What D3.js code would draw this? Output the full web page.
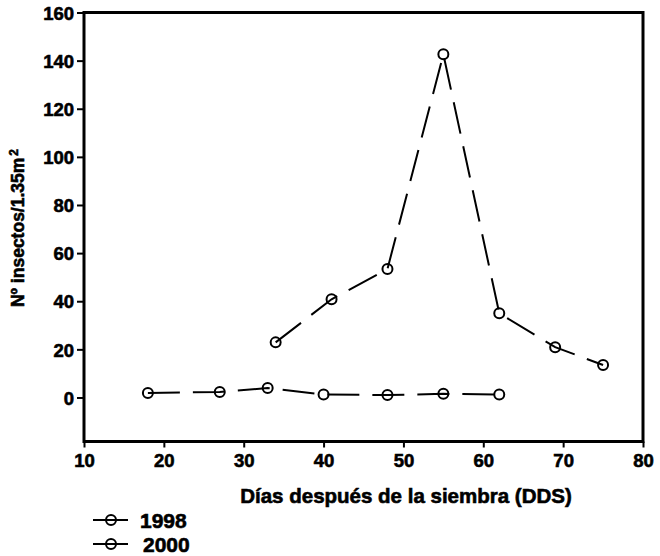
<!DOCTYPE html>
<html><head><meta charset="utf-8">
<script src="https://cdn.jsdelivr.net/npm/d3@7"></script>
<style>body{margin:0;background:#fff}svg{display:block}text{font-family:"Liberation Sans",Arial,sans-serif;font-weight:bold;fill:#000;stroke:#000;stroke-width:0.6px}</style>
</head><body><svg id="c" width="660" height="556"></svg>
<script>
const days1998 = [34, 41, 48, 55, 62, 69, 75];
const vals1998 = [22.9, 40.8, 53.4, 142.6, 35.0, 20.9, 13.5];
const days2000 = [18, 27, 33, 40, 48, 55, 62];
const vals2000 = [1.9, 2.3, 3.9, 1.2, 1.0, 1.5, 1.2];
const xTicks = [10, 20, 30, 40, 50, 60, 70, 80];
const yTicks = [0, 20, 40, 60, 80, 100, 120, 140, 160];
const seriesNames = ["1998", "2000"];

const svg = d3.select("#c");
const L = 84, R = 643, T = 12.5, B = 441.5;
const x = d3.scaleLinear().domain([10, 80]).range([L, R]);
const y = d3.scaleLinear().domain([-18.3, 160]).range([B, T]);

// axes
const xa = svg.append("g").attr("transform", `translate(0,${B})`)
  .call(d3.axisBottom(x).tickValues(xTicks).tickSize(6).tickPadding(6).tickFormat(d3.format("d")));
const ya = svg.append("g").attr("transform", `translate(${L},0)`)
  .call(d3.axisLeft(y).tickValues(yTicks).tickSize(7).tickPadding(3).tickFormat(d3.format("d")));
[xa, ya].forEach(a => {
  a.select(".domain").remove();
  a.selectAll(".tick line").attr("stroke", "#000").attr("stroke-width", 2);
  a.selectAll(".tick text").style("font-size", "18.5px").attr("fill", "#000");
});
ya.selectAll(".tick text").attr("dy", "0.36em");

// frame
svg.append("rect").attr("x", L).attr("y", T).attr("width", R - L).attr("height", B - T)
  .attr("fill", "none").attr("stroke", "#000").attr("stroke-width", 3);

const line = d3.line().x(d => x(d[0])).y(d => y(d[1]));
const s1998 = days1998.map((d, i) => [d, vals1998[i]]);
const s2000 = days2000.map((d, i) => [d, vals2000[i]]);

[s1998, s2000].forEach(s => {
  svg.append("path").datum(s).attr("d", line).attr("fill", "none")
    .attr("stroke", "#000").attr("stroke-width", 2).attr("stroke-dasharray", "32,13");
  svg.append("g").selectAll("circle").data(s).join("circle")
    .attr("cx", d => x(d[0])).attr("cy", d => y(d[1])).attr("r", 5)
    .attr("fill", "none").attr("stroke", "#000").attr("stroke-width", 2);
});

// axis titles
svg.append("text").attr("x", 406).attr("y", 503).attr("text-anchor", "middle")
  .style("font-size", "20.5px").text("Días después de la siembra (DDS)");
const yt = svg.append("text").attr("transform", "translate(24,228) rotate(-90)")
  .attr("text-anchor", "middle").style("font-size", "17.5px");
yt.append("tspan").text("Nº insectos/1.35m");
yt.append("tspan").attr("dy", "-0.5em").attr("dx", "2").style("font-size", "12px").text("2");

// legend
const leg = svg.append("g");
seriesNames.forEach((n, i) => {
  const ly = 520 + i * 24;
  leg.append("line").attr("x1", 93).attr("x2", 128).attr("y1", ly).attr("y2", ly)
    .attr("stroke", "#000").attr("stroke-width", 2);
  leg.append("circle").attr("cx", 111).attr("cy", ly).attr("r", 5)
    .attr("fill", "none").attr("stroke", "#000").attr("stroke-width", 2);
  leg.append("text").attr("x", 140 + i * 3).attr("y", ly + 8).style("font-size", "21px").text(n);
});
</script></body></html>
